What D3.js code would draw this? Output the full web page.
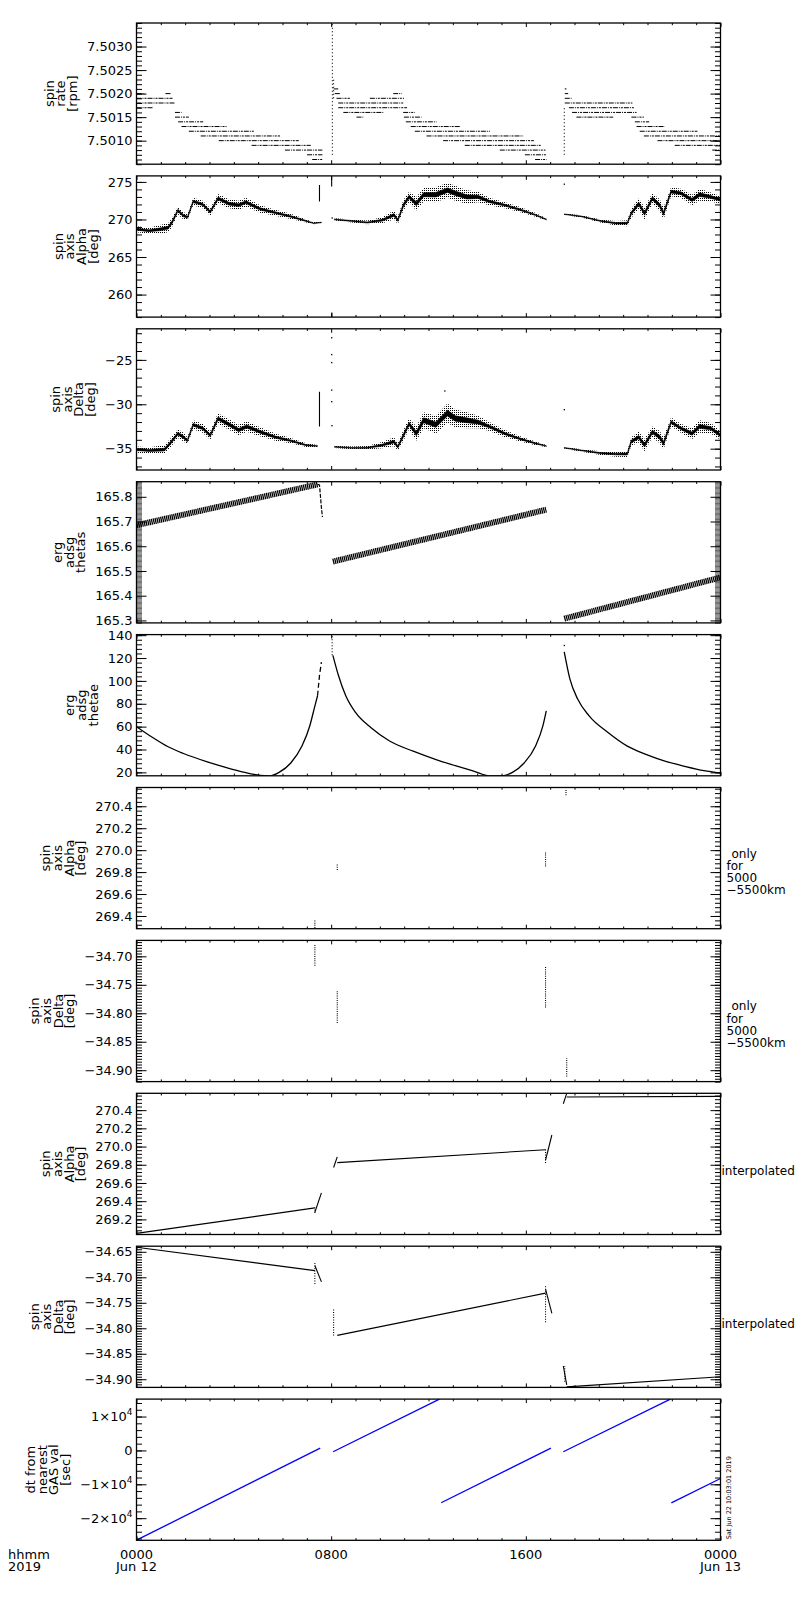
<!DOCTYPE html>
<html lang="en">
<head>
<meta charset="UTF-8">
<title>ERG spin axis</title>
<style>
  body { margin: 0; background: #fff; }
  svg { display: block; font-family: "DejaVu Sans", sans-serif; }
</style>
</head>
<body>
<svg></svg>
<script src="https://cdn.jsdelivr.net/npm/d3@7/dist/d3.min.js"></script>
<script>
// ---- data, time in hours from 2019-06-12 00:00 ----
const timeMajor = [0, 8, 16, 24]
const timeLabels = ["0000", "0800", "1600", "0000"]
const dateLabels = ["Jun 12", "", "", "Jun 13"]

// spin rate [rpm]: [level, tStart, tEnd]
const rateLevels = [
  [7.5020, 0, 0.34], [7.5020, 1.19, 1.4], [7.5019, 0, 1.48], [7.5018, 0, 1.58], [7.5017, 0, 0.68],
  [7.5016, 1.58, 1.85], [7.5015, 1.58, 2.15], [7.5014, 1.71, 2.74], [7.5013, 1.85, 3.7],
  [7.5012, 2.15, 4.84], [7.5011, 2.64, 5.9], [7.5010, 3.38, 6.67], [7.5009, 4.73, 7.16],
  [7.5008, 6.1, 7.64], [7.5007, 7.01, 7.64], [7.5006, 7.22, 7.64],
  [7.5021, 8.1, 8.29], [7.5020, 8.15, 8.36], [7.5020, 10.55, 10.9], [7.5019, 8.22, 8.77], [7.5019, 9.59, 10.99],
  [7.5018, 8.29, 10.96], [7.5017, 8.29, 11.12], [7.5016, 8.5, 10.14], [7.5016, 10.96, 11.44],
  [7.5015, 9.04, 9.32], [7.5015, 10.99, 11.71], [7.5014, 11.07, 12.33], [7.5013, 11.27, 13.3],
  [7.5012, 11.44, 14.52], [7.5011, 11.92, 15.89], [7.5010, 12.6, 16.33], [7.5009, 13.49, 16.64],
  [7.5008, 14.93, 16.81], [7.5007, 15.96, 16.85], [7.5006, 16.38, 16.85],
  [7.5021, 17.6, 17.67], [7.5020, 17.6, 17.74], [7.5019, 17.6, 17.88], [7.5018, 17.6, 20.38],
  [7.5017, 17.77, 20.48], [7.5016, 17.9, 20.55], [7.5015, 18.08, 19.59], [7.5015, 20.34, 20.85],
  [7.5014, 20.48, 21.07], [7.5013, 20.55, 21.71], [7.5012, 20.68, 23.05], [7.5011, 20.85, 24],
  [7.5010, 21.41, 24], [7.5009, 22.12, 24], [7.5008, 23.66, 24]
]
// vertical runs of points: [t, low, high]
const rateDrops = [[8.05, 7.5007, 7.5035], [8.1, 7.5019, 7.5023], [17.58, 7.5007, 7.5017]]

// spin axis alpha [deg]: [t, centre, half spread]
const alpha1 = [[0,268.7,0.4],[0.52,268.5,0.4],[1.0,268.7,0.6],[1.3,268.9,0.6],[1.46,269.6,0.6],[1.7,271.2,0.5],
  [1.93,270.5,0.5],[2.1,270.3,0.4],[2.33,272.4,0.5],[2.72,272.0,0.5],[3.03,271.0,0.5],[3.35,272.8,0.6],
  [3.8,272.1,0.6],[4.2,271.9,0.6],[4.5,272.3,0.6],[5.08,271.4,0.5],[5.7,270.9,0.4],[6.34,270.4,0.35],
  [6.97,269.8,0.2],[7.28,269.5,0.15],[7.6,269.6,0.1]]
const alpha2 = [[8.14,270.0,0.15],[8.85,269.8,0.2],[9.48,269.6,0.25],[10.1,269.9,0.4],[10.58,270.6,0.6],
  [10.74,269.9,0.5],[10.97,271.9,0.7],[11.2,273.0,0.7],[11.5,272.1,0.9],[11.8,273.3,0.9],[12.3,273.3,1.0],
  [12.78,273.9,1.0],[13.1,273.5,1.0],[13.57,273.0,0.9],[14.04,273.0,0.7],[14.5,272.4,0.5],[15.14,271.9,0.4],
  [15.77,271.3,0.35],[16.4,270.6,0.25],[16.84,270.0,0.15]]
const alpha3 = [[17.58,270.7,0.1],[18.29,270.4,0.15],[19.07,269.8,0.2],[19.7,269.5,0.3],[20.17,269.5,0.4],
  [20.33,270.8,0.6],[20.64,272.1,0.7],[20.88,270.8,0.8],[21.2,272.8,0.7],[21.5,271.9,0.8],[21.66,270.8,0.8],
  [21.97,273.7,0.6],[22.37,273.5,0.6],[22.83,272.6,0.7],[23.14,273.3,0.8],[23.6,273.0,0.6],[24,272.6,0.5]]
const alphaSpikes = [[7.52, 272.4, 274.6], [8.03, 257.0, 257.6], [8.02, 274.4, 275.8]]
const alphaDots = [[8.04, 270.2], [17.58, 274.7]]

// spin axis delta [deg]
const delta1 = [[0,-35.1,0.35],[0.52,-35.2,0.35],[1.15,-35.1,0.5],[1.38,-34.4,0.5],[1.7,-33.3,0.5],
  [1.93,-33.7,0.5],[2.09,-34.1,0.4],[2.33,-32.3,0.5],[2.72,-32.7,0.5],[3.03,-33.5,0.5],[3.35,-31.6,0.6],
  [3.82,-32.3,0.6],[4.2,-32.9,0.6],[4.53,-32.5,0.6],[5.08,-33.1,0.5],[5.71,-33.7,0.4],[6.34,-34.1,0.3],
  [6.97,-34.6,0.2],[7.44,-34.7,0.12]]
const delta2 = [[8.14,-34.8,0.12],[8.85,-34.9,0.15],[9.48,-34.9,0.2],[10.1,-34.6,0.35],[10.58,-34.2,0.5],
  [10.74,-34.8,0.4],[10.97,-33.5,0.6],[11.2,-32.2,0.6],[11.5,-33.3,0.8],[11.8,-31.8,0.9],[12.3,-32.3,1.0],
  [12.78,-31.0,1.1],[13.1,-31.6,1.0],[13.57,-31.8,0.9],[14.04,-32.0,0.7],[14.5,-32.5,0.5],[15.14,-33.3,0.4],
  [15.77,-33.9,0.3],[16.4,-34.4,0.2],[16.84,-34.7,0.12]]
const delta3 = [[17.58,-34.9,0.1],[18.29,-35.2,0.15],[19.07,-35.5,0.2],[19.7,-35.6,0.3],[20.17,-35.6,0.35],
  [20.33,-34.2,0.5],[20.64,-33.7,0.6],[20.88,-34.6,0.7],[21.2,-33.1,0.6],[21.5,-33.7,0.7],[21.66,-34.4,0.7],
  [21.97,-32.0,0.5],[22.37,-32.7,0.5],[22.83,-33.3,0.6],[23.14,-32.5,0.7],[23.6,-32.7,0.6],[24,-33.5,0.5]]
const deltaSpikes = [[7.52, -32.5, -28.6]]
const deltaDots = [[8.02,-22.5],[8.02,-24.4],[8.02,-25.3],[8.02,-28.4],[8.02,-29.7],[8.03,-32.4],[12.67,-28.5],[17.58,-30.6]]

// erg adsg thetas [deg]
const thetasSegs = [[[0,165.685],[7.44,165.85]], [[8.07,165.538],[16.84,165.748]], [[17.58,165.307],[24,165.474]]]
const thetasSpread = 0.012
const thetasDrop = [[7.44,165.85],[7.52,165.848],[7.55,165.814],[7.59,165.766],[7.64,165.718]]

// erg adsg thetae [deg]
const thetae1 = [[0,60],[0.68,50.3],[1.3,42.4],[1.93,36.5],[2.88,29.4],[3.66,24.4],[4.45,20],[5.08,17.4],
  [5.47,17],[5.86,20],[6.34,28.2],[6.8,43],[7.12,60.6],[7.33,78],[7.44,87]]
const thetae1Tail = [[7.44,87],[7.52,104.7],[7.6,116.5]]
const thetae2 = [[8.07,122.4],[8.3,104.7],[8.6,87],[9.0,72.4],[9.64,59],[10.4,47.4],[11.37,38.5],
  [12.31,31.2],[13.1,25.9],[13.88,20.9],[14.5,17],[14.98,17],[15.45,20],[15.93,28.2],[16.4,43],[16.7,60.6],[16.84,73.8]]
const thetae3 = [[17.58,125.3],[17.81,101.8],[18.13,84.1],[18.6,69.4],[19.39,54.7],[20.17,43],[20.96,35.6],
  [21.75,29.7],[22.53,25.3],[23.32,21.5],[24,19.4]]
const thetaeRuns = [[8.04, 122.4, 141]]
const thetaeDots = [[17.58, 131]]

// alpha / delta only for 5000-5500 km: [t, low, high]
const alphaWindow = [[7.33,269.29,269.36],[8.25,269.819,269.874],[16.81,269.85,269.98],[17.65,270.50,270.56]]
const deltaWindow = [[7.33,-34.7165,-34.678],[8.25,-34.817,-34.761],[16.81,-34.790,-34.7165],[17.68,-34.911,-34.879]]

// interpolated alpha / delta
const alphaInterp = [
  [[0,269.046],[7.33,269.326]], [[7.33,269.278],[7.6,269.492]], [[8.1,269.77],[8.25,269.887]],
  [[8.25,269.824],[16.81,269.965]], [[16.81,269.85],[17.07,270.127]], [[17.54,270.47],[17.68,270.585]],
  [[17.68,270.544],[24,270.551]]]
const alphaInterpDots = [[7.33, 269.27, 269.33], [16.81, 269.82, 269.97]]
const deltaInterp = [
  [[0,-34.641],[7.33,-34.687]], [[7.33,-34.677],[7.6,-34.709]], [[8.25,-34.814],[16.81,-34.731]],
  [[16.81,-34.723],[17.07,-34.771]], [[17.54,-34.874],[17.68,-34.911]], [[17.68,-34.915],[24,-34.895]]]
const deltaInterpDots = [[7.33,-34.713,-34.670], [8.1,-34.814,-34.763], [16.81,-34.788,-34.717], [17.6,-34.905,-34.874]]

// dt from nearest GAS val [sec]
const gasDt = [[[0,-26500],[7.55,700]], [[8.08,-400],[12.45,15150]], [[12.52,-15450],[17.03,700]],
  [[17.54,-400],[21.94,15150]], [[21.98,-15500],[24,-8300]]]
const gasTicks = [-20000, -10000, 0, 10000]

// ---- layout ----
const width = 800, height = 1600
const left = 136.5, right = 720.5
const top0 = 23, step = 152.9, ph = 141.2

const svg = d3.select("svg").attr("width", width).attr("height", height)
svg.append("rect").attr("width", width).attr("height", height).attr("fill", "#fff")

const defs = svg.append("defs")
defs.append("pattern").attr("id", "speck").attr("width", 2).attr("height", 2)
  .attr("patternUnits", "userSpaceOnUse")
  .append("rect").attr("width", 1).attr("height", 1).attr("fill", "#000")

const x = d3.scaleLinear().domain([0, 24]).range([left, right])
const fmt = d3.format

function seq(dom, s) {
  const out = []
  for (let k = Math.ceil(dom[0] / s - 1e-6); k * s <= dom[1] + s * 1e-6; k++) out.push(+(k * s).toFixed(8))
  return out
}

function drawLevels(g, y) {
  g.selectAll(".lvl").data(rateLevels).join("line")
    .attr("x1", d => x(d[1])).attr("x2", d => x(d[2]))
    .attr("y1", d => y(d[0])).attr("y2", d => y(d[0]))
    .attr("stroke", "#000").attr("stroke-width", 1).attr("stroke-dasharray", "5 1 1 1 2 1")
  vruns(g, y, rateDrops, "1 2.5")
}

function vruns(g, y, data, dash) {
  g.append("g").selectAll("line").data(data).join("line")
    .attr("x1", d => x(d[0])).attr("x2", d => x(d[0]))
    .attr("y1", d => y(d[1])).attr("y2", d => y(d[2]))
    .attr("stroke", "#000").attr("stroke-width", 1.1).attr("stroke-dasharray", dash)
}

function dots(g, y, data) {
  g.append("g").selectAll("rect").data(data).join("rect")
    .attr("x", d => x(d[0]) - 0.6).attr("y", d => y(d[1]) - 0.6)
    .attr("width", 1.3).attr("height", 1.3).attr("fill", "#000")
}

function bands(segs, spikes, pts) {
  return function (g, y) {
    const outer = d3.area().x(d => x(d[0])).y0(d => y(d[1] - d[2])).y1(d => y(d[1] + d[2]))
    const inner = d3.area().x(d => x(d[0])).y0(d => y(d[1] - d[2] * 0.3)).y1(d => y(d[1] + d[2] * 0.3))
    segs.forEach(s => {
      g.append("path").attr("d", outer(s)).attr("fill", "url(#speck)")
      g.append("path").attr("d", inner(s)).attr("fill", "#000")
        .attr("stroke", "#000").attr("stroke-width", 0.6)
    })
    vruns(g, y, spikes, null)
    dots(g, y, pts)
  }
}

const line = y => d3.line().x(d => x(d[0])).y(d => y(d[1]))

function drawThetas(g, y) {
  const w = Math.abs(y(0) - y(2 * thetasSpread))
  thetasSegs.forEach(s => {
    g.append("path").attr("d", line(y)(s)).attr("fill", "none")
      .attr("stroke", "#000").attr("stroke-width", w).attr("stroke-dasharray", "1.3 0.6")
  })
  g.append("path").attr("d", line(y)(thetasDrop)).attr("fill", "none")
    .attr("stroke", "#000").attr("stroke-width", 1.2).attr("stroke-dasharray", "4 1.5")
}

function drawThetae(g, y) {
  const l = line(y).curve(d3.curveMonotoneX)
  ;[thetae1, thetae2, thetae3].forEach(s => {
    g.append("path").attr("d", l(s)).attr("fill", "none").attr("stroke", "#000").attr("stroke-width", 1.3)
  })
  g.append("path").attr("d", line(y)(thetae1Tail)).attr("fill", "none")
    .attr("stroke", "#000").attr("stroke-width", 1.3).attr("stroke-dasharray", "5 3")
  vruns(g, y, thetaeRuns, "1 2")
  dots(g, y, thetaeDots)
}

function drawWindow(data) {
  return (g, y) => vruns(g, y, data, "1 1.2")
}

function drawInterp(segs, pts) {
  return function (g, y) {
    segs.forEach(s => {
      g.append("path").attr("d", line(y)(s)).attr("fill", "none").attr("stroke", "#000").attr("stroke-width", 1.1)
    })
    vruns(g, y, pts, "1 1.5")
  }
}

function drawGas(g, y) {
  gasDt.forEach(s => {
    g.append("path").attr("d", line(y)(s)).attr("fill", "none").attr("stroke", "#0000ff").attr("stroke-width", 1.3)
  })
}

const panels = [
  {dom: [7.5005, 7.5035], ticks: seq([7.501, 7.503], 0.0005), minor: 0.0001, f: fmt(".4f"),
   label: ["spin", "rate", "[rpm]"], draw: drawLevels},
  {dom: [257.0, 275.8], ticks: [260, 265, 270, 275], minor: 1, f: fmt("d"),
   label: ["spin", "axis", "Alpha", "[deg]"], draw: bands([alpha1, alpha2, alpha3], alphaSpikes, alphaDots)},
  {dom: [-37.4, -21.5], ticks: [-35, -30, -25], minor: 1, f: fmt("d"),
   label: ["spin", "axis", "Delta", "[deg]"], draw: bands([delta1, delta2, delta3], deltaSpikes, deltaDots)},
  {dom: [165.29, 165.861], ticks: seq([165.3, 165.8], 0.1), minor: 0.005, f: fmt(".1f"),
   label: ["erg", "adsg", "thetas"], draw: drawThetas},
  {dom: [17, 140.5], ticks: seq([20, 140], 20), minor: 4, f: fmt("d"),
   label: ["erg", "adsg", "thetae"], draw: drawThetae},
  {dom: [269.284, 270.571], ticks: seq([269.4, 270.4], 0.2), minor: 0.04, f: fmt(".1f"),
   label: ["spin", "axis", "Alpha", "[deg]"], draw: drawWindow(alphaWindow),
   note: ["only", "for", "5000", "\u22125500km"]},
  {dom: [-34.92, -34.672], ticks: seq([-34.9, -34.7], 0.05), minor: 0.005, f: fmt(".2f"),
   label: ["spin", "axis", "Delta", "[deg]"], draw: drawWindow(deltaWindow),
   note: ["only", "for", "5000", "\u22125500km"]},
  {dom: [269.034, 270.585], ticks: seq([269.2, 270.4], 0.2), minor: 0.04, f: fmt(".1f"),
   label: ["spin", "axis", "Alpha", "[deg]"], draw: drawInterp(alphaInterp, alphaInterpDots),
   note: ["interpolated"]},
  {dom: [-34.916, -34.639], ticks: seq([-34.9, -34.65], 0.05), minor: 0.005, f: fmt(".2f"),
   label: ["spin", "axis", "Delta", "[deg]"], draw: drawInterp(deltaInterp, deltaInterpDots),
   note: ["interpolated"]},
  {dom: [-26530, 15150], ticks: gasTicks, minor: 2000, f: d => d === 0 ? "0" : "sci",
   label: ["dt from", "nearest", "GAS val", "[sec]"], draw: drawGas}
]

panels.forEach((p, i) => {
  const top = top0 + i * step, bottom = top + ph
  const y = d3.scaleLinear().domain(p.dom).range([bottom, top])
  const g = svg.append("g")

  const clipId = "clip" + i
  defs.append("clipPath").attr("id", clipId).append("rect")
    .attr("x", left).attr("y", top).attr("width", right - left).attr("height", ph)
  p.draw(g.append("g").attr("clip-path", `url(#${clipId})`), y)

  // y axes, ticks pointing inward
  const minorW = Math.abs(y(0) - y(p.minor)) < 2 ? 0.6 : 1
  const yl = g.append("g").attr("transform", `translate(${left},0)`)
    .call(d3.axisLeft(y).tickValues(p.ticks).tickSize(-10).tickPadding(4).tickFormat(p.f))
  g.append("g").attr("class", "minor").attr("transform", `translate(${left},0)`)
    .call(d3.axisLeft(y).tickValues(seq(p.dom, p.minor)).tickSize(-5.5).tickFormat(""))
  g.append("g").attr("transform", `translate(${right},0)`)
    .call(d3.axisRight(y).tickValues(p.ticks).tickSize(-10).tickFormat(""))
  g.append("g").attr("class", "minor").attr("transform", `translate(${right},0)`)
    .call(d3.axisRight(y).tickValues(seq(p.dom, p.minor)).tickSize(-5.5).tickFormat(""))

  // x ticks top and bottom
  const hours = d3.range(1, 24).filter(h => h % 8)
  g.append("g").attr("transform", `translate(0,${bottom})`)
    .call(d3.axisBottom(x).tickValues(timeMajor).tickSize(-4).tickFormat(""))
  g.append("g").attr("transform", `translate(0,${bottom})`)
    .call(d3.axisBottom(x).tickValues(hours).tickSize(-2.2).tickFormat(""))
  g.append("g").attr("transform", `translate(0,${top})`)
    .call(d3.axisTop(x).tickValues(timeMajor).tickSize(-4).tickFormat(""))
  g.append("g").attr("transform", `translate(0,${top})`)
    .call(d3.axisTop(x).tickValues(hours).tickSize(-2.2).tickFormat(""))

  g.selectAll(".domain").remove()
  g.selectAll(".tick line").attr("stroke", "#000").attr("stroke-width", 1)
  g.selectAll(".minor .tick line").attr("stroke-width", minorW)
  yl.selectAll(".tick text").attr("font-size", 13).attr("font-family", "DejaVu Sans").attr("fill", "#000")

  if (i === panels.length - 1) {
    yl.selectAll(".tick text").each(function (d) {
      if (d === 0) return
      const t = d3.select(this).text("")
      t.append("tspan").text((d < 0 ? "\u2212" : "") + Math.abs(d / 10000) + "\u00d710")
      t.append("tspan").text("4").attr("font-size", 9).attr("dy", -6)
    })
  }

  g.append("rect").attr("x", left).attr("y", top).attr("width", right - left).attr("height", ph)
    .attr("fill", "none").attr("stroke", "#000").attr("stroke-width", 1.3)

  // left label, lines rotated, block ends left of tick labels
  const tickLeft = left + d3.min(yl.selectAll(".tick text").nodes(), n => n.getBBox().x)
  const cy = (top + bottom) / 2, n = p.label.length
  p.label.forEach((s, k) => {
    const bx = tickLeft - 10 - (n - 1 - k) * 11.7
    g.append("text").attr("x", bx).attr("y", cy).attr("transform", `rotate(-90,${bx},${cy})`)
      .attr("text-anchor", "middle").attr("font-size", 13).text(s)
  })

  if (p.note) {
    if (p.note.length === 1) {
      g.append("text").attr("x", right + 1).attr("y", top + 82).attr("font-size", 12).text(p.note[0])
    } else {
      p.note.forEach((s, k) => {
        g.append("text").attr("x", right + 6 + (k === 0 ? 5 : 0)).attr("y", top + 70 + k * 12.3)
          .attr("font-size", 12).text(s)
      })
    }
  }
})

// time axis labels under last panel
const axisY = top0 + 9 * step + ph
timeMajor.forEach((t, k) => {
  svg.append("text").attr("x", x(t)).attr("y", axisY + 19).attr("text-anchor", "middle")
    .attr("font-size", 13).text(timeLabels[k])
  if (dateLabels[k]) svg.append("text").attr("x", x(t)).attr("y", axisY + 31)
    .attr("text-anchor", "middle").attr("font-size", 13).text(dateLabels[k])
})
svg.append("text").attr("x", 8).attr("y", axisY + 19).attr("font-size", 13).text("hhmm")
svg.append("text").attr("x", 8).attr("y", axisY + 31).attr("font-size", 13).text("2019")

svg.append("text").attr("transform", `translate(731,${axisY - 1}) rotate(-90)`)
  .attr("font-size", 6.5).text("Sat Jun 22 10:03:01 2019")
</script>
</body>
</html>
